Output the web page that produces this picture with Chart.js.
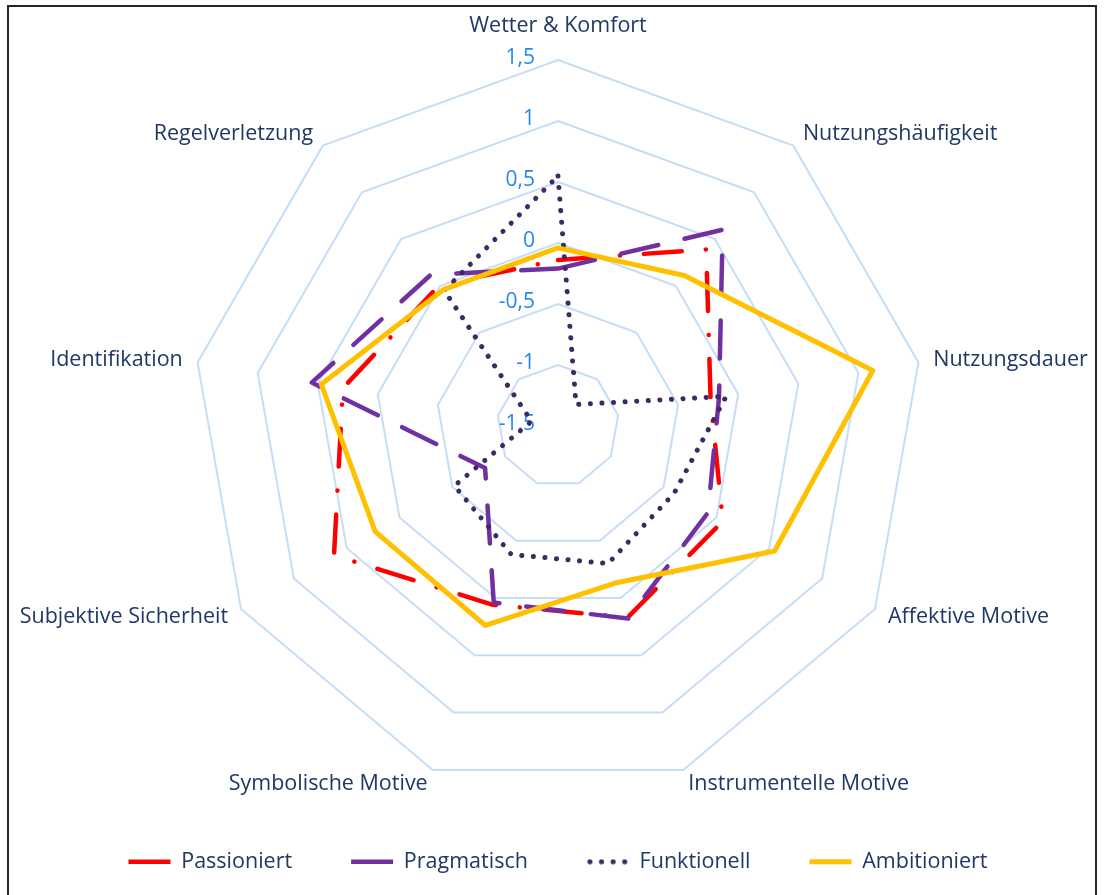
<!DOCTYPE html>
<html>
<head>
<meta charset="utf-8">
<script src="https://cdn.jsdelivr.net/npm/chart.js@4.4.0/dist/chart.umd.min.js"></script>
<style>
    body { margin: 0; background: #fff; }
    #wrap { position: relative; width: 1105px; height: 895px; overflow: hidden; }
    #frame { position: absolute; left: 7px; top: 5px; width: 1090px; height: 920px; border: 2px solid #262626; box-sizing: border-box; pointer-events: none; }
</style>
</head>
<body>
<div id="wrap">
    <canvas id="radarChart"></canvas>
    <div id="frame"></div>
</div>
<script>
// categories (clockwise from the top)
const categories = ['Wetter & Komfort', 'Nutzungshäufigkeit', 'Nutzungsdauer', 'Affektive Motive',
    'Instrumentelle Motive', 'Symbolische Motive', 'Subjektive Sicherheit', 'Identifikation', 'Regelverletzung'];

// series values
const passioniert = [-0.14, 0.39, -0.23, 0.06, 0.17, 0.06, 0.62, 0.29, 0.01];
const pragmatisch = [-0.21, 0.60, -0.16, -0.08, 0.18, 0.04, -0.81, 0.55, 0.12];
const funktionell = [0.55, -1.27, -0.10, -0.40, -0.30, -0.38, -0.52, -1.28, -0.05];
const ambitioniert = [-0.04, 0.11, 1.12, 0.55, -0.13, 0.24, 0.23, 0.47, -0.04];

// axis ticks
const tickMin = -1.5;
const tickMax = 1.5;
const tickStep = 0.5;

const labelColor = '#1f3864';
const tickColor = '#2389f0';

// small dotted icon for the Funktionell legend entry
function dottedIcon(color) {
    const c = document.createElement('canvas');
    c.width = 44;
    c.height = 6;
    const g = c.getContext('2d');
    g.strokeStyle = color;
    g.lineWidth = 5;
    g.lineCap = 'round';
    g.setLineDash([0.1, 11.5]);
    g.beginPath();
    g.moveTo(4, 3);
    g.lineTo(44, 3);
    g.stroke();
    return c;
}

// Draw tick labels and category labels like the original (right aligned ticks, outer labels)
const textPlugin = {
    id: 'textPlugin',
    beforeDatasetsDraw(chart) {
        const scale = chart.scales.r;
        const ctx = chart.ctx;
        ctx.save();
        ctx.font = '21px "Open Sans"';
        ctx.fillStyle = tickColor;
        ctx.textAlign = 'right';
        ctx.textBaseline = 'middle';
        scale.ticks.forEach(tick => {
            const dist = scale.getDistanceFromCenterForValue(tick.value);
            ctx.fillText(tick.label, scale.xCenter - 23, scale.yCenter - dist - 2);
        });
        ctx.restore();
    },
    afterDraw(chart) {
        const scale = chart.scales.r;
        const ctx = chart.ctx;
        ctx.save();
        ctx.font = '21.5px "Open Sans"';
        ctx.fillStyle = labelColor;
        ctx.textBaseline = 'middle';
        chart.data.labels.forEach((label, i) => {
            const s = Math.sin(scale.getIndexAngle(i));
            const pos = scale.getPointPosition(i, scale.drawingArea + 15);
            let y = pos.y;
            if (s > 0.05) {
                ctx.textAlign = 'left';
            } else if (s < -0.05) {
                ctx.textAlign = 'right';
            } else {
                ctx.textAlign = 'center';
                y -= 19;
            }
            ctx.fillText(label, pos.x, y);
        });
        ctx.restore();
    }
};

const ctx = document.getElementById('radarChart');

new Chart(ctx, {
    type: 'radar',
    data: {
        labels: categories,
        datasets: [{
            label: 'Passioniert',
            data: passioniert,
            borderColor: '#ff0000',
            borderWidth: 4.5,
            borderDash: [38, 24, 0.1, 24],
            order: 4
        }, {
            label: 'Pragmatisch',
            data: pragmatisch,
            borderColor: '#7030a0',
            borderWidth: 4.5,
            borderDash: [38, 27],
            order: 3
        }, {
            label: 'Funktionell',
            data: funktionell,
            borderColor: '#3b2a63',
            borderWidth: 5,
            borderDash: [0.1, 11.5],
            pointStyle: dottedIcon('#3b2a63'),
            order: 2
        }, {
            label: 'Ambitioniert',
            data: ambitioniert,
            borderColor: '#ffc000',
            borderWidth: 5,
            order: 1
        }]
    },
    options: {
        responsive: true,
        maintainAspectRatio: false,
        animation: false,
        layout: {
            padding: { left: 11, right: 0, top: 60, bottom: 12.5 }
        },
        elements: {
            line: {
                tension: 0,
                fill: false,
                borderCapStyle: 'round',
                borderJoinStyle: 'round',
                backgroundColor: 'transparent'
            },
            point: {
                radius: 0,
                hoverRadius: 0,
                pointStyle: 'line'
            }
        },
        plugins: {
            legend: {
                position: 'bottom',
                labels: {
                    usePointStyle: true,
                    pointStyleWidth: 42,
                    padding: 59,
                    color: labelColor,
                    font: { family: 'Open Sans', size: 21.5 },
                    sort: (a, b) => a.datasetIndex - b.datasetIndex
                }
            },
            tooltip: { enabled: false }
        },
        scales: {
            r: {
                min: tickMin,
                max: tickMax,
                angleLines: { display: false },
                grid: {
                    circular: false,
                    color: '#c5ddf7',
                    lineWidth: 2
                },
                pointLabels: { display: false },
                ticks: {
                    display: false,
                    stepSize: tickStep,
                    callback: function (value) {
                        return String(value).replace('.', ',');
                    }
                }
            }
        }
    },
    plugins: [textPlugin]
});
</script>
</body>
</html>
